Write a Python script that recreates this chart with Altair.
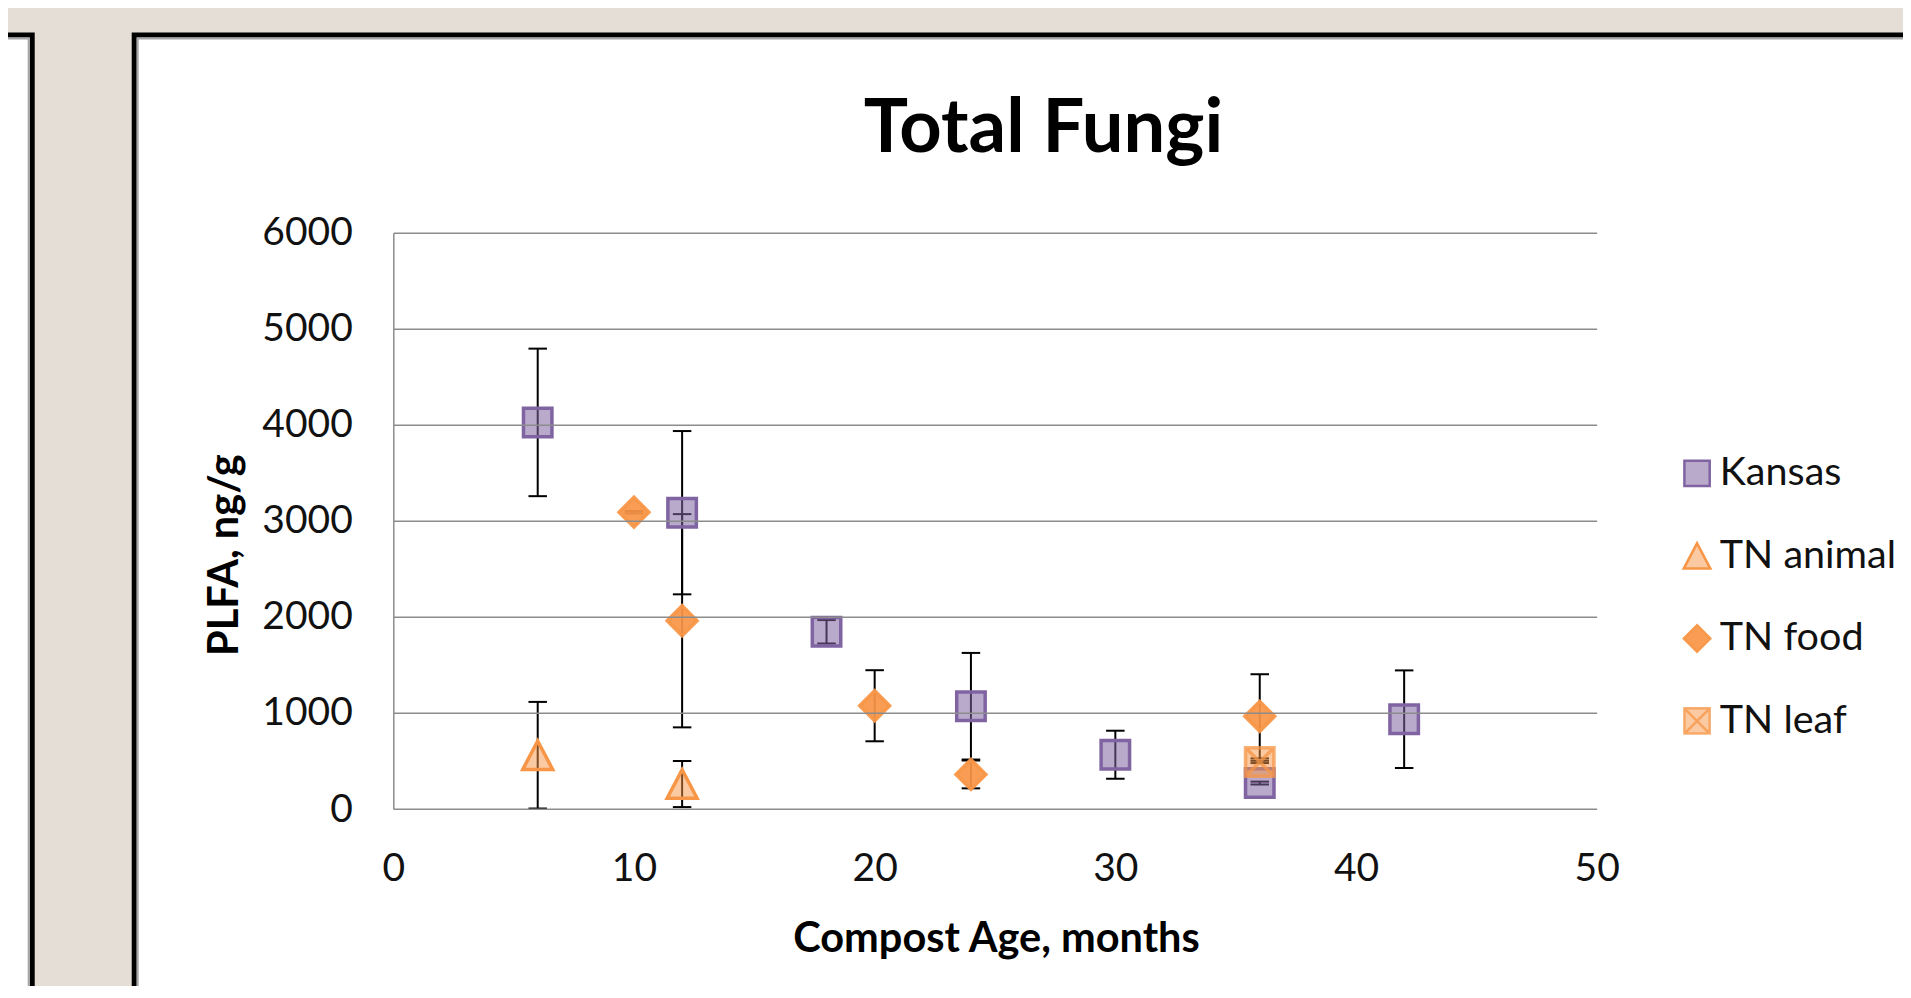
import altair as alt
import pandas as pd

# ---------------- data ----------------
series_names = ["Kansas", "TN animal", "TN food", "TN leaf"]

kansas_age = [6, 12, 18, 24, 30, 36, 42]
kansas_plfa = [4025, 3085, 1845, 1070, 565, 270, 935]
kansas_err = [768, 850, 122, 555, 250, 15, 508]

animal_age = [6, 12]
animal_plfa = [560, 260]
animal_err = [555, 240]

food_age = [10, 12, 20, 24, 36]
food_plfa = [3090, 1960, 1075, 360, 965]
food_err = [12, 1110, 370, 145, 438]

leaf_age = [36]
leaf_plfa = [490]
leaf_err = [12]

x_ticks = [0, 10, 20, 30, 40, 50]
y_ticks = [0, 1000, 2000, 3000, 4000, 5000, 6000]

chart_title = "Total Fungi"
x_title = "Compost Age, months"
y_title = "PLFA, ng/g"

# ---------------- table ----------------
frames = []
for name, ages, vals, errs in [
    (series_names[0], kansas_age, kansas_plfa, kansas_err),
    (series_names[1], animal_age, animal_plfa, animal_err),
    (series_names[2], food_age, food_plfa, food_err),
    (series_names[3], leaf_age, leaf_plfa, leaf_err),
]:
    frames.append(pd.DataFrame({"series": name, "age": ages, "plfa": vals, "err": errs}))
df = pd.concat(frames, ignore_index=True)
df["lo"] = (df["plfa"] - df["err"]).clip(lower=0)
df["hi"] = df["plfa"] + df["err"]

one = pd.DataFrame({"k": [0]})

# ---------------- styling ----------------
FONT = "Lato"
W, H = 1203.4, 576.3
PL, PT = 385.3, 224.7
TOTAL_W, TOTAL_H = 1895, 978
PR = TOTAL_W - PL - W
PB = TOTAL_H - PT - H

GRID = "#8c8c8c"
PURPLE = "#8064a2"

TRI = "M0,-1L1.05,1L-1.05,1Z"
DIAMOND = "M0,-1.05L1.05,0L0,1.05L-1.05,0Z"
LEAF = "M-1,-1L1,-1L1,1L-1,1Z M-1,-1L1,1 M1,-1L-1,1"
CAP = "M-1,0L1,0"

x_scale = alt.Scale(domain=[0, 50], nice=False, zero=False)
y_scale = alt.Scale(domain=[0, 6000], nice=False, zero=False)

x_axis = alt.Axis(
    values=x_ticks, grid=False, ticks=False, tickSize=0, domain=False, zindex=1,
    labelFont=FONT, labelFontSize=39, labelColor="#111111", labelPadding=40,
    labelBaseline="top", labelFlush=False,
    title=x_title, titleFont=FONT, titleFontSize=41.5, titleFontWeight="bold",
    titleColor="#000000", titleX=W / 2 + 1, titleY=142.7, titleAlign="center",
    titleBaseline="alphabetic",
)
y_axis = alt.Axis(
    values=y_ticks, format="d", grid=True, gridColor=GRID, gridWidth=1.5,
    ticks=False, tickSize=0, domain=True, domainColor=GRID, domainWidth=1.5, zindex=1,
    labelFont=FONT, labelFontSize=39, labelColor="#111111", labelPadding=41,
    labelFlush=False,
    title=y_title, titleFont=FONT, titleFontSize=41.5, titleFontWeight="bold",
    titleColor="#000000", titleAngle=270, titleX=-168, titleY=322,
    titleAlign="center", titleBaseline="middle",
)


def X(field):
    return alt.X(f"{field}:Q", scale=x_scale, axis=x_axis)


def Y(field):
    return alt.Y(f"{field}:Q", scale=y_scale, axis=y_axis)


# ---------------- decoration (slide boxes) ----------------
box_right = alt.Chart(one).mark_rect(fill="white", stroke="black", strokeWidth=5).encode(
    x=alt.value(-259.1), x2=alt.value(1800), y=alt.value(-197.7), y2=alt.value(1000)
)
box_right_inner = alt.Chart(one).mark_rect(fillOpacity=0, stroke="#a5a5a5", strokeWidth=2).encode(
    x=alt.value(-255.6), x2=alt.value(1800), y=alt.value(-194.2), y2=alt.value(1000)
)
box_left = alt.Chart(one).mark_rect(fill="white", stroke="black", strokeWidth=5).encode(
    x=alt.value(-460), x2=alt.value(-361.1), y=alt.value(-197.7), y2=alt.value(1000)
)
box_left_inner = alt.Chart(one).mark_rect(fillOpacity=0, stroke="#a5a5a5", strokeWidth=2).encode(
    x=alt.value(-460), x2=alt.value(-364.6), y=alt.value(-194.2), y2=alt.value(1000)
)

title = alt.Chart(one).mark_text(
    text=chart_title, font=FONT, fontSize=74, fontWeight="bold", color="#000000",
    align="center", baseline="alphabetic",
).encode(x=alt.value(650.2), y=alt.value(-81))

# ---------------- error bars ----------------
bars = alt.Chart(df).mark_rule(color="black", strokeWidth=2).encode(
    x=X("age"), y=Y("lo"), y2="hi:Q"
)
cap_lo = alt.Chart(df).mark_point(shape=CAP, size=342, color="black", strokeWidth=2,
                                   filled=False, opacity=1).encode(x=X("age"), y=Y("lo"))
cap_hi = alt.Chart(df).mark_point(shape=CAP, size=342, color="black", strokeWidth=2,
                                   filled=False, opacity=1).encode(x=X("age"), y=Y("hi"))

# ---------------- markers ----------------
fills = ["rgba(128,100,162,0.55)", "rgba(247,150,70,0.5)",
         "rgba(247,150,70,0.93)", "rgba(247,150,70,0.5)"]
strokes = [PURPLE, "rgba(247,150,70,1)", "rgba(247,150,70,0.93)", "rgba(247,150,70,0.75)"]
shapes = ["square", TRI, DIAMOND, LEAF]

legend = alt.Legend(
    orient="none", legendX=1284, legendY=221, title=None, padding=0,
    symbolSize=640, symbolStrokeWidth=2.5, symbolOpacity=1,
    labelFont=FONT, labelFontSize=39.5, labelColor="#111111", labelLimit=500,
    labelOffset=3, rowPadding=41.5,
)

points = alt.Chart(df).mark_point(filled=True, opacity=1, size=810, strokeWidth=3.5).encode(
    x=X("age"),
    y=Y("plfa"),
    shape=alt.Shape("series:N", scale=alt.Scale(domain=series_names, range=shapes), legend=legend),
    fill=alt.Fill("series:N", scale=alt.Scale(domain=series_names, range=fills), legend=legend),
    stroke=alt.Stroke("series:N", scale=alt.Scale(domain=series_names, range=strokes), legend=legend),
)

chart = alt.layer(
    box_left, box_left_inner, box_right, box_right_inner, title,
    bars, cap_lo, cap_hi, points,
).properties(
    width=W, height=H,
    autosize=alt.AutoSizeParams(type="none"),
    padding={"left": PL, "top": PT, "right": PR, "bottom": PB},
).configure(
    background="#e4ded6",
).configure_view(strokeWidth=0)

chart.save("out.html", embed_options={"renderer": "svg", "actions": False})
